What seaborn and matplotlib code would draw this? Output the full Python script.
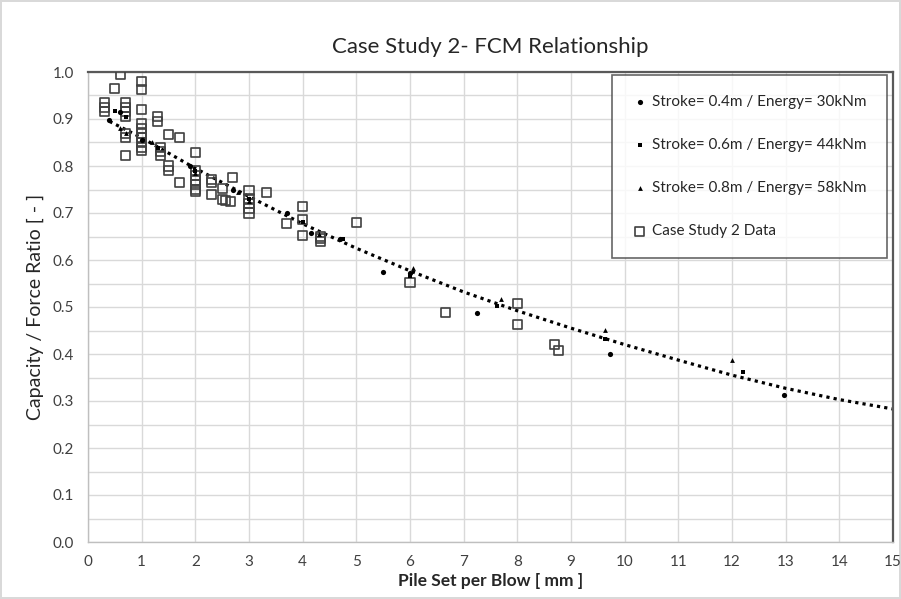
import matplotlib
matplotlib.use("Agg")
import matplotlib.pyplot as plt
import seaborn as sns

# Stroke series
s04_x = [0.4, 0.6, 1.0, 1.9, 2.7, 3.7, 4.15, 4.7, 5.5, 6.0, 7.25, 9.73, 12.97]
s04_y = [0.898, 0.915, 0.856, 0.80, 0.75, 0.70, 0.658, 0.644, 0.575, 0.573, 0.488, 0.40, 0.313]

s06_x = [0.5, 0.7, 1.3, 2.0, 3.0, 4.0, 4.75, 6.0, 7.63, 9.64, 12.2]
s06_y = [0.917, 0.905, 0.838, 0.79, 0.73, 0.68, 0.645, 0.565, 0.503, 0.431, 0.362]

s08_x = [0.6, 0.7, 1.2, 2.0, 2.8, 3.0, 4.3, 6.06, 7.7, 9.64, 12.0]
s08_y = [0.88, 0.87, 0.852, 0.785, 0.745, 0.725, 0.655, 0.583, 0.517, 0.452, 0.388]

# Case Study 2 data
cs_x = [0.3, 0.3, 0.3, 0.5, 0.6, 0.7, 0.7, 0.7, 0.7, 0.7, 0.7, 0.7,
        1.0, 1.0, 1.0, 1.0, 1.0, 1.0, 1.0, 1.0, 1.0, 1.0,
        1.3, 1.3, 1.35, 1.35, 1.35, 1.5, 1.5, 1.5, 1.7, 1.7,
        2.0, 2.0, 2.0, 2.0, 2.0, 2.0, 2.0,
        2.3, 2.3, 2.3, 2.5, 2.5, 2.57, 2.66, 2.7,
        3.0, 3.0, 3.0, 3.0, 3.0, 3.33, 3.69,
        4.0, 4.0, 4.0, 4.33, 4.33, 4.33, 5.0, 6.0, 6.67, 8.0, 8.0, 8.7, 8.76]
cs_y = [0.935, 0.925, 0.917, 0.965, 0.994, 0.935, 0.925, 0.915, 0.905, 0.87, 0.86, 0.822,
        0.98, 0.962, 0.92, 0.89, 0.88, 0.87, 0.86, 0.85, 0.84, 0.832,
        0.905, 0.895, 0.84, 0.83, 0.823, 0.868, 0.80, 0.79, 0.86, 0.765,
        0.829, 0.79, 0.78, 0.77, 0.76, 0.75, 0.745,
        0.772, 0.765, 0.739, 0.753, 0.728, 0.727, 0.724, 0.776,
        0.748, 0.73, 0.72, 0.71, 0.70, 0.744, 0.678,
        0.714, 0.687, 0.652, 0.65, 0.645, 0.64, 0.68, 0.553, 0.488, 0.507, 0.462, 0.421, 0.407]

# dotted trend line, read at integer steps
trend_x = [0.4, 1, 2, 3, 4, 5, 6, 7, 8, 9, 10, 11, 12, 13, 14, 15]
trend_y = [0.895, 0.86, 0.795, 0.735, 0.677, 0.625, 0.577, 0.532, 0.492, 0.455, 0.42, 0.387, 0.355, 0.327, 0.303, 0.283]

x_ticks = list(range(0, 16))
y_ticks = [0.0, 0.1, 0.2, 0.3, 0.4, 0.5, 0.6, 0.7, 0.8, 0.9, 1.0]

sns.set_style("white")
plt.rcParams['font.family'] = ['Lato', 'DejaVu Sans']

fig = plt.figure(figsize=(9.01, 5.99), dpi=100)
fig.patch.set_edgecolor('#d9d9d9')
fig.patch.set_linewidth(1.5)
ax = fig.add_axes([88 / 901, 1 - 542 / 599, (893 - 88) / 901, (542 - 72) / 599])

sns.lineplot(x=trend_x, y=trend_y, ax=ax, color='black', linewidth=2.3,
             linestyle=(0, (1, 1.3)), zorder=2)

sns.scatterplot(x=s04_x, y=s04_y, ax=ax, marker='o', s=14, color='black',
                edgecolor='black', linewidth=0, zorder=4,
                label='Stroke= 0.4m / Energy= 30kNm')
sns.scatterplot(x=s06_x, y=s06_y, ax=ax, marker='s', s=12, color='black',
                edgecolor='black', linewidth=0, zorder=4,
                label='Stroke= 0.6m / Energy= 44kNm')
sns.scatterplot(x=s08_x, y=s08_y, ax=ax, marker='^', s=12, color='black',
                edgecolor='black', linewidth=0, zorder=4,
                label='Stroke= 0.8m / Energy= 58kNm')
sns.scatterplot(x=cs_x, y=cs_y, ax=ax, marker='s', s=42, facecolor='none',
                edgecolor='#404040', linewidth=1.2, zorder=3,
                label='Case Study 2 Data')

ax.set_xlim(0, 15)
ax.set_ylim(0, 1.0)
ax.set_xticks(x_ticks)
ax.set_yticks(y_ticks)
ax.set_yticks([v + 0.05 for v in y_ticks[:-1]], minor=True)
ax.set_yticklabels([f"{v:.1f}" for v in y_ticks])
ax.grid(True, which='both', color='#d9d9d9', linewidth=1.0, zorder=0)
ax.grid(False, which='minor', axis='x')
ax.set_axisbelow(True)
ax.tick_params(axis='both', labelsize=11, colors='#404040', length=0)
ax.tick_params(axis='x', pad=9)
ax.tick_params(axis='y', pad=10)

for side in ['top', 'right']:
    ax.spines[side].set_color('#595959')
    ax.spines[side].set_linewidth(1.6)
for side in ['left', 'bottom']:
    ax.spines[side].set_color('#bfbfbf')
    ax.spines[side].set_linewidth(1.0)

ax.set_title('Case Study 2- FCM Relationship', fontsize=16, color='#262626', pad=14)
ax.set_xlabel('Pile Set per Blow [ mm ]', fontsize=12.5, fontweight='bold', color='#262626', labelpad=3)
ax.set_ylabel('Capacity / Force Ratio [ - ]', fontsize=14, color='#262626', labelpad=6)

leg = ax.legend(loc='upper right', bbox_to_anchor=(0.992, 0.993), frameon=True,
                fancybox=False, edgecolor='#404040', fontsize=11,
                labelspacing=1.9, borderpad=1.3, handletextpad=0.3,
                handlelength=1.0, borderaxespad=0, markerscale=1.0)
leg.get_frame().set_linewidth(1.2)

fig.savefig('out.png', dpi=100)
